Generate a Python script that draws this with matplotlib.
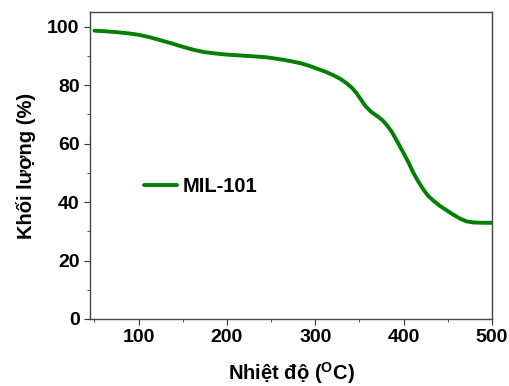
import matplotlib
matplotlib.use("Agg")
import matplotlib.pyplot as plt
from matplotlib.ticker import MultipleLocator

temperature = [50, 62, 75, 88, 100, 112, 124, 138, 151, 163, 174, 187, 200, 222, 245, 265, 283, 293, 302, 312, 321, 329, 336, 342, 347, 352, 357, 363, 370, 376, 381, 387, 392, 396, 400, 406, 411, 417, 423, 428, 434, 441, 449, 456, 464, 471, 479, 490, 500]
mass = [98.6, 98.4, 98.1, 97.7, 97.2, 96.4, 95.4, 94.2, 93.0, 92.0, 91.3, 90.8, 90.4, 90.0, 89.5, 88.6, 87.5, 86.6, 85.6, 84.5, 83.3, 82.0, 80.5, 78.9, 77.1, 74.9, 72.7, 70.9, 69.4, 68.0, 66.3, 63.8, 61.1, 58.9, 56.7, 53.2, 50.0, 46.8, 44.0, 42.0, 40.4, 38.7, 37.1, 35.7, 34.3, 33.4, 33.0, 32.9, 32.9]
series_name = "MIL-101"
x_ticks = [100, 200, 300, 400, 500]
y_ticks = [0, 20, 40, 60, 80, 100]

plt.rcParams['font.family'] = ['Liberation Sans', 'DejaVu Sans']
plt.rcParams['font.weight'] = 'bold'
plt.rcParams['mathtext.fontset'] = 'custom'
plt.rcParams['mathtext.rm'] = 'Liberation Sans:bold'
plt.rcParams['mathtext.bf'] = 'Liberation Sans:bold'

fig = plt.figure(figsize=(5.09, 3.86), dpi=100)
ax = fig.add_axes([0.1768, 0.1736, 0.7898, 0.7954])
ax.plot(temperature, mass, color='#008000', lw=2.8, label=series_name, solid_capstyle='round')
ax.set_xlim(45, 500)
ax.set_ylim(0, 105)
ax.set_xticks(x_ticks)
ax.set_yticks(y_ticks)
ax.xaxis.set_minor_locator(MultipleLocator(50))
ax.yaxis.set_minor_locator(MultipleLocator(10))
ax.tick_params(which='both', direction='out', top=False, right=False, labelsize=14, color='#333333')
ax.tick_params(which='major', length=4)
ax.tick_params(which='minor', length=2.5)
for s in ax.spines.values():
    s.set_color('#444444')
    s.set_linewidth(1.0)
ax.set_xlabel(r"Nhiệt độ ($^{\mathbf{O}}$C)", fontsize=14.5, fontweight='bold', labelpad=10)
ax.set_ylabel("Khối lượng (%)", fontsize=14.5, fontweight='bold', labelpad=8)
ax.legend(loc='center left', bbox_to_anchor=(0.09, 0.433), frameon=False, fontsize=14.5, handlelength=1.6, handletextpad=0.3)
fig.savefig("out.png", dpi=100)
